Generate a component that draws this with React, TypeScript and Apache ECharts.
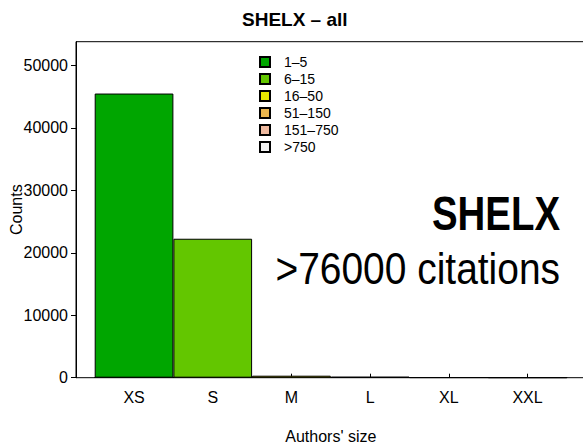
import React, { useEffect, useRef } from "react";
import * as echarts from "echarts";

const categories = ["XS", "S", "M", "L", "XL", "XXL"];
const groupNames = ["1–5", "6–15", "16–50", "51–150", "151–750", ">750"];
const counts = [45500, 22250, 320, 150, 40, 10];
const colors = ["#00A600", "#63C600", "#E6E600", "#EAB64E", "#EEB99F", "#F2F2F2"];
const yMax = 53800;
const yInterval = 10000;

const FONT = "'Liberation Sans', Arial, Helvetica, sans-serif";

export default function App() {
  const ref = useRef<HTMLDivElement>(null);
  useEffect(() => {
    if (!ref.current) return;
    const chart = echarts.init(ref.current, null, { renderer: "svg" });
    const series = groupNames.map((name, i) => ({
      name,
      type: "bar",
      xAxisIndex: 1,
      yAxisIndex: 1,
      barGap: "-100%",
      barCategoryGap: "0%",
      itemStyle: { color: colors[i], borderColor: "#000", borderWidth: 1 },
      data: counts.map((v, j) => (j === i ? v : "-")),
    }));
    chart.setOption({
      animation: false,
      backgroundColor: "#fff",
      textStyle: { fontFamily: FONT },
      title: {
        text: "SHELX – all",
        left: 242,
        top: 10,
        padding: 0,
        textStyle: { fontFamily: FONT, fontWeight: "bold", fontSize: 19, color: "#000" },
      },
      legend: {
        orient: "vertical",
        left: 259,
        top: 55,
        padding: 0,
        itemWidth: 10,
        itemHeight: 10,
        itemGap: 3,
        icon: "rect",
        data: groupNames,
        textStyle: { fontFamily: FONT, fontSize: 14, color: "#000", padding: [0, 0, 0, 9] },
      },
      grid: [
        { left: 76, right: -3, top: 41.7, bottom: 69.3, show: true, borderColor: "#000", borderWidth: 1, backgroundColor: "transparent", containLabel: false, outerBoundsMode: "none" },
        { left: 94.7, right: 16.1, top: 41.7, bottom: 69.3, containLabel: false, outerBoundsMode: "none" },
      ],
      xAxis: [
        { type: "value", gridIndex: 0, min: 0, max: 1, show: false },
        {
          type: "category",
          gridIndex: 1,
          data: categories,
          axisLine: { show: true, lineStyle: { color: "#000", width: 1 } },
          axisTick: { show: true, inside: true, length: 4, alignWithLabel: true, lineStyle: { color: "#000" } },
          axisLabel: { color: "#000", fontSize: 16, fontFamily: FONT, margin: 12 },
          name: "Authors' size",
          nameLocation: "middle",
          nameGap: 51,
          nameMoveOverlap: false,
          nameTextStyle: { color: "#000", fontSize: 16, fontFamily: FONT },
        },
      ],
      yAxis: [
        {
          type: "value",
          gridIndex: 0,
          min: 0,
          max: yMax,
          interval: yInterval,
          splitLine: { show: false },
          axisLine: { show: true, lineStyle: { color: "#000", width: 1 } },
          axisTick: { show: true, length: 5, lineStyle: { color: "#000" } },
          axisLabel: { color: "#000", fontSize: 16, fontFamily: FONT, margin: 8, showMaxLabel: false, formatter: (v: number) => String(v) },
          name: "Counts",
          nameLocation: "middle",
          nameRotate: 90,
          nameGap: 52,
          nameMoveOverlap: false,
          nameTextStyle: { color: "#000", fontSize: 16, fontFamily: FONT },
        },
        { type: "value", gridIndex: 1, min: 0, max: yMax, show: false, splitLine: { show: false } },
      ],
      series,
      graphic: [
        {
          type: "text",
          x: 560,
          y: 213,
          scaleX: 0.8,
          style: { text: "SHELX", font: `bold 48px ${FONT}`, fill: "#000", textAlign: "right", textVerticalAlign: "middle" },
        },
        {
          type: "text",
          x: 560,
          y: 269,
          scaleX: 0.885,
          style: { text: ">76000 citations", font: `44px ${FONT}`, fill: "#000", textAlign: "right", textVerticalAlign: "middle" },
        },
      ],
    });
    return () => chart.dispose();
  }, []);
  return <div ref={ref} style={{ position: "fixed", left: 0, top: 0, width: 583, height: 447 }} />;
}
